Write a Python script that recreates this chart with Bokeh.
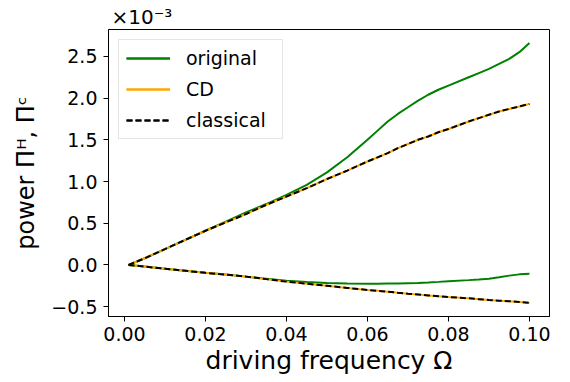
from bokeh.plotting import figure
from bokeh.models import Range1d, FixedTicker, CustomJSTickFormatter, PrintfTickFormatter
from bokeh.embed import file_html
from bokeh.resources import INLINE

# driving frequency Omega
omega = [0.001, 0.005, 0.01, 0.015, 0.02, 0.025, 0.03, 0.035, 0.04, 0.045, 0.05,
         0.055, 0.06, 0.0625, 0.065, 0.0675, 0.07, 0.0725, 0.075, 0.0775, 0.08,
         0.085, 0.0875, 0.09, 0.0925, 0.095, 0.0975, 0.1]

# power values in units of 1e-3
orig_hot = [0.0, 0.08, 0.19, 0.30, 0.41, 0.52, 0.63, 0.73, 0.84, 0.96, 1.11,
            1.29, 1.50, 1.61, 1.72, 1.81, 1.89, 1.97, 2.04, 2.10, 2.15,
            2.25, 2.30, 2.35, 2.41, 2.47, 2.55, 2.66]
orig_cold = [0.0, -0.02, -0.045, -0.07, -0.095, -0.115, -0.14, -0.165, -0.19, -0.205, -0.215,
             -0.222, -0.225, -0.225, -0.223, -0.221, -0.218, -0.215, -0.21, -0.203, -0.195,
             -0.182, -0.175, -0.165, -0.148, -0.128, -0.113, -0.105]
cd_hot = [0.0, 0.08, 0.19, 0.30, 0.41, 0.51, 0.61, 0.72, 0.82, 0.92, 1.03,
          1.13, 1.24, 1.29, 1.34, 1.40, 1.45, 1.50, 1.54, 1.59, 1.63,
          1.72, 1.76, 1.80, 1.84, 1.87, 1.90, 1.93]
cd_cold = [0.0, -0.02, -0.045, -0.07, -0.095, -0.115, -0.14, -0.17, -0.20, -0.225, -0.25,
           -0.275, -0.30, -0.31, -0.32, -0.333, -0.345, -0.355, -0.365, -0.375, -0.385,
           -0.40, -0.41, -0.42, -0.428, -0.435, -0.445, -0.455]
cl_hot = [0.0, 0.08, 0.19, 0.30, 0.41, 0.51, 0.61, 0.72, 0.82, 0.92, 1.03,
          1.13, 1.24, 1.29, 1.34, 1.40, 1.45, 1.50, 1.54, 1.59, 1.63,
          1.72, 1.76, 1.80, 1.84, 1.87, 1.90, 1.93]
cl_cold = [0.0, -0.02, -0.045, -0.07, -0.095, -0.115, -0.14, -0.17, -0.20, -0.225, -0.25,
           -0.275, -0.30, -0.31, -0.32, -0.333, -0.345, -0.355, -0.365, -0.375, -0.385,
           -0.40, -0.41, -0.42, -0.428, -0.435, -0.445, -0.455]

x_ticks = [0.0, 0.02, 0.04, 0.06, 0.08, 0.10]
y_ticks = [-0.5, 0.0, 0.5, 1.0, 1.5, 2.0, 2.5]

FONT = "DejaVu Sans"

p = figure(width=570, height=382, output_backend="svg", toolbar_location=None,
           x_range=Range1d(-0.00395, 0.10495), y_range=Range1d(-0.618, 2.822),
           min_border_left=108, min_border_right=21, min_border_top=29, min_border_bottom=66)

p.background_fill_color = "white"
p.border_fill_color = "white"
p.outline_line_color = "black"
p.outline_line_width = 1
p.xgrid.visible = False
p.ygrid.visible = False

for ax in (p.xaxis[0], p.yaxis[0]):
    ax.axis_line_color = "black"
    ax.major_tick_line_color = "black"
    ax.major_tick_out = 5
    ax.major_tick_in = 0
    ax.minor_tick_line_color = None
    ax.major_label_text_font = FONT
    ax.major_label_text_font_size = "19px"
    ax.major_label_text_color = "black"
    ax.axis_label_text_font = FONT
    ax.axis_label_text_font_style = "normal"
    ax.axis_label_text_color = "black"

p.xaxis[0].ticker = FixedTicker(ticks=x_ticks)
p.xaxis[0].formatter = PrintfTickFormatter(format="%.2f")
p.xaxis[0].major_label_standoff = 5
p.xaxis[0].axis_label = "driving frequency \u03a9"
p.xaxis[0].axis_label_text_font_size = "25px"
p.xaxis[0].axis_label_standoff = 2

p.yaxis[0].ticker = FixedTicker(ticks=y_ticks)
p.yaxis[0].formatter = CustomJSTickFormatter(
    code="return (tick < 0 ? '\u2212' : '') + Math.abs(tick).toFixed(1);")
p.yaxis[0].major_label_standoff = 6
p.yaxis[0].axis_label = "power \u03a0\u1d34, \u03a0\u1d9c"
p.yaxis[0].axis_label_text_font_size = "24px"
p.yaxis[0].axis_label_standoff = 8

p.title.text = "\u00d710\u207b\u00b3"
p.title.align = "left"
p.title.offset = 3
p.title.standoff = 2
p.title.text_font = FONT
p.title.text_font_size = "20px"
p.title.text_font_style = "normal"
p.title.text_color = "black"

lw = 2
p.line(omega, orig_hot, line_color="green", line_width=lw, legend_label="original")
p.line(omega, orig_cold, line_color="green", line_width=lw, legend_label="original")
p.line(omega, cd_hot, line_color="orange", line_width=lw, legend_label="CD")
p.line(omega, cd_cold, line_color="orange", line_width=lw, legend_label="CD")
p.line(omega, cl_hot, line_color="black", line_width=lw, line_dash="6 3", legend_label="classical")
p.line(omega, cl_cold, line_color="black", line_width=lw, line_dash="6 3", legend_label="classical")

lg = p.legend[0]
lg.location = "top_left"
lg.margin = 10
lg.padding = 7
lg.spacing = 9
lg.label_height = 22
lg.label_width = 89
lg.glyph_width = 44
lg.glyph_height = 22
lg.label_standoff = 16
lg.label_text_font = FONT
lg.label_text_font_size = "19px"
lg.label_text_color = "black"
lg.border_line_color = "#cccccc"
lg.border_line_width = 1
lg.background_fill_alpha = 0.8

open("out.html", "w").write(file_html(p, INLINE))
